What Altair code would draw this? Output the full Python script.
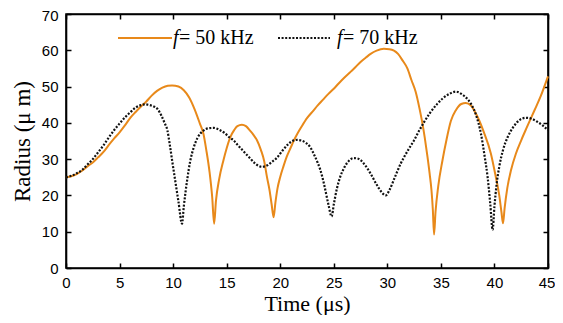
import altair as alt
import pandas as pd

# ---- data ----
series = ["f= 50 kHz", "f= 70 kHz"]
legend_rest = ["= 50 kHz", "= 70 kHz"]

t50 = [0, 0.5, 1.0, 1.5, 2.0, 2.5, 3.0, 3.5, 4.0, 4.5, 5.0, 5.5, 6.0, 6.5, 7.0, 7.5, 8.0, 8.5,
       9.0, 9.5, 9.9, 10.5, 11.0, 11.5, 12.0, 12.5, 12.83, 13.1, 13.4, 13.65, 13.83,
       14.0, 14.3, 14.7, 15.0, 15.33, 15.7, 16.0, 16.42, 16.8, 17.2, 17.5, 17.83, 18.2, 18.5,
       18.76, 19.0, 19.2, 19.38, 19.55, 19.75, 20.0, 20.3, 20.6, 21.0, 21.25, 21.6, 22.0, 22.5,
       23.1, 23.5, 24.0, 24.5, 25.0, 25.5, 26.0, 26.5, 26.87, 27.5, 28.0, 28.44, 29.0, 29.68,
       30.2, 30.62, 31.0, 31.4, 31.87, 32.25, 32.65, 33.0, 33.28, 33.5, 33.75, 33.95, 34.12,
       34.25, 34.36, 34.5, 34.75, 35.15, 35.5, 35.93, 36.4, 36.9, 37.33, 37.8, 38.43, 39.0,
       39.67, 40.1, 40.45, 40.65, 40.8, 40.95, 41.2, 41.55, 42.0, 42.5, 43.0, 43.73, 44.3, 45.0]
r50 = [25.0, 25.3, 25.9, 26.8, 28.0, 29.1, 30.5, 32.0, 33.9, 35.7, 37.4, 39.3, 41.4, 43.0, 44.5,
       45.9, 47.5, 48.8, 49.7, 50.2, 50.3, 50.0, 49.0, 47.0, 43.8, 39.8, 37.0, 32.5, 26.5, 19.5,
       12.2, 18.5, 24.5, 29.7, 33.0, 36.0, 38.0, 39.1, 39.5, 39.1, 37.8, 36.7, 35.2, 32.5, 29.5,
       25.1, 21.5, 17.5, 14.0, 18.0, 22.0, 25.1, 28.0, 30.6, 33.3, 35.0, 37.0, 39.0, 41.3,
       43.4, 44.8, 46.4, 48.0, 49.4, 51.0, 52.5, 53.9, 54.9, 56.8, 58.0, 59.0, 59.9, 60.4,
       60.3, 59.9, 59.0, 57.3, 55.0, 51.8, 48.5, 44.0, 39.8, 35.8, 30.6, 26.0, 21.5,
       16.0, 9.2, 15.5, 22.5, 29.7, 35.0, 40.5, 43.5, 45.2, 45.5, 44.8, 41.6, 37.5,
       31.5, 25.5, 20.0, 15.5, 12.3, 16.5, 22.0, 27.0, 31.5, 35.2, 38.6, 43.4, 47.2, 52.8]

t70 = [0, 0.5, 1.0, 1.5, 2.0, 2.5, 2.9, 3.5, 4.0, 4.47, 5.0, 5.5, 6.03, 6.5, 7.0, 7.35, 7.8,
       8.2, 8.52, 8.9, 9.2, 9.46, 9.7, 9.93, 10.2, 10.5, 10.83, 11.0, 11.3, 11.6, 11.9, 12.3,
       12.8, 13.3, 13.8, 14.3, 14.8, 15.3, 15.64, 16.0, 16.5, 17.2, 17.7, 18.3, 18.8, 19.2,
       19.7, 20.2, 20.7, 21.2, 21.57, 22.0, 22.4, 22.8, 23.2, 23.5, 23.75, 24.1, 24.5, 24.8,
       25.0, 25.3, 25.6, 26.0, 26.4, 26.87, 27.3, 27.8, 28.44, 29.0, 29.5, 29.85, 30.2, 30.7,
       31.25, 31.55, 32.0, 32.5, 33.0, 33.43, 34.0, 34.68, 35.2, 35.8, 36.4, 37.0, 37.5, 37.8,
       38.3, 38.74, 39.1, 39.36, 39.6, 39.83, 40.0, 40.2, 40.45, 40.8, 41.24, 41.8, 42.4,
       42.95, 43.5, 44.0, 44.5, 45.0]
r70 = [25.0, 25.4, 26.1, 27.0, 28.5, 30.0, 31.5, 33.8, 36.0, 37.9, 39.8, 41.5, 43.0, 44.2, 44.9,
       45.1, 44.9, 44.5, 43.9, 42.0, 40.0, 38.0, 33.8, 29.2, 24.0, 18.3, 12.2, 17.0, 24.0, 29.5,
       33.0, 36.0, 37.8, 38.5, 38.6, 38.1, 37.2, 35.9, 35.2, 34.0, 32.4, 30.2, 28.7, 27.9, 28.3,
       29.2, 30.4, 32.3, 34.0, 35.1, 35.3, 35.1, 34.5, 33.3, 31.0, 29.0, 27.0, 23.0, 17.5, 14.2,
       17.5, 22.0, 25.1, 27.8, 29.5, 30.3, 30.1, 28.8, 26.0, 23.0, 20.8, 20.0, 21.5, 25.0,
       28.8, 30.5, 32.8, 35.2, 38.0, 40.2, 42.8, 45.3, 46.8, 48.0, 48.6, 47.8, 46.5, 45.3,
       42.0, 37.0, 30.5, 25.1, 18.0, 10.5, 17.0, 23.0, 27.9, 32.5, 36.1, 39.0, 40.9,
       41.4, 41.1, 40.3, 39.3, 38.0]

x_ticks = [0, 5, 10, 15, 20, 25, 30, 35, 40, 45]
y_ticks = [0, 10, 20, 30, 40, 50, 60, 70]

ORANGE = "#E8891A"
BLACK = "#111111"
W, H = 482, 254

df50 = pd.DataFrame({"t": t50, "r": r50, "series": series[0]})
df70 = pd.DataFrame({"t": t70, "r": r70, "series": series[1]})
leg = pd.DataFrame({"series": series, "rest": legend_rest})

xs = alt.Scale(domain=[0, 45], nice=False, zero=False)
ys = alt.Scale(domain=[0, 70], nice=False)

SANS = "Liberation Sans"
SERIF = "Liberation Serif"

main_x = alt.Axis(orient="bottom", values=x_ticks, title="Time (μs)", labelFont=SANS,
                  labelFontSize=15, labelColor="black", labelPadding=7, ticks=False,
                  tickSize=0, domain=False, grid=False, labelFlush=False,
                  labelOffset={"condition": {"test": "datum.value == 45", "value": -1.5},
                               "value": 0},
                  titleFont=SERIF, titleFontSize=22,
                  titleFontWeight="normal", titleColor="black", titlePadding=3)
main_y = alt.Axis(orient="left", values=y_ticks, title="Radius (μ m)", labelFont=SANS,
                  labelFontSize=15, labelColor="black", labelPadding=8, ticks=False,
                  tickSize=0, domain=False, grid=False, labelFlush=False,
                  labelOffset={"condition": {"test": "datum.value == 70", "value": 1},
                               "value": 0},
                  titleFont=SERIF, titleFontSize=23,
                  titleFontWeight="normal", titleColor="black", titlePadding=7)


def tick_axis(orient, values, offset):
    return alt.Axis(orient=orient, values=values, labels=False, title=None, domain=True,
                    domainColor="black", domainWidth=1.6,
                    grid=False, ticks=True, tickSize=5, tickWidth=1.5, tickColor="black",
                    offset=offset)


orange = alt.Chart(df50).mark_line(color=ORANGE, strokeWidth=2, interpolate="monotone").encode(
    x=alt.X("t:Q", scale=xs, axis=main_x),
    y=alt.Y("r:Q", scale=ys, axis=main_y),
)

black = alt.Chart(df70).mark_line(color=BLACK, strokeWidth=2.2, strokeDash=[2, 1.6],
                                  interpolate="monotone").encode(
    x=alt.X("t:Q", scale=xs, axis=tick_axis("top", x_ticks, -H)),
    y=alt.Y("r:Q", scale=ys, axis=tick_axis("right", y_ticks, -W)),
)

ghost = alt.Chart(df70).mark_line(opacity=0).encode(
    x=alt.X("t:Q", scale=xs, axis=tick_axis("bottom", x_ticks, -H)),
    y=alt.Y("r:Q", scale=ys, axis=tick_axis("left", y_ticks, -W)),
)

# legend (drawn inside the plot area)
leg_base = alt.Chart(leg)
key50 = leg_base.transform_filter(alt.datum.series == series[0]).mark_rule(
    color=ORANGE, strokeWidth=2).encode(x=alt.value(52), x2=alt.value(106), y=alt.value(24))
key70 = leg_base.transform_filter(alt.datum.series == series[1]).mark_rule(
    color=BLACK, strokeWidth=2.2, strokeDash=[2, 1.6]).encode(
    x=alt.value(212), x2=alt.value(264), y=alt.value(24))

f50 = leg_base.transform_filter(alt.datum.series == series[0]).mark_text(
    font=SERIF, fontSize=20, fontStyle="italic", align="left", baseline="middle",
    color="black").encode(x=alt.value(107), y=alt.value(24), text=alt.value("f"))
rest50 = leg_base.transform_filter(alt.datum.series == series[0]).mark_text(
    font=SERIF, fontSize=20, align="left", baseline="middle", color="black").encode(
    x=alt.value(113), y=alt.value(24), text="rest:N")
f70 = leg_base.transform_filter(alt.datum.series == series[1]).mark_text(
    font=SERIF, fontSize=20, fontStyle="italic", align="left", baseline="middle",
    color="black").encode(x=alt.value(271), y=alt.value(24), text=alt.value("f"))
rest70 = leg_base.transform_filter(alt.datum.series == series[1]).mark_text(
    font=SERIF, fontSize=20, align="left", baseline="middle", color="black").encode(
    x=alt.value(277), y=alt.value(24), text="rest:N")

chart = alt.layer(orange, black, ghost, key50, key70, f50, rest50, f70, rest70).resolve_axis(
    x="independent", y="independent"
).properties(
    width=W, height=H,
    autosize=alt.AutoSizeParams(type="none"),
    padding={"left": 58, "top": 6, "right": 7, "bottom": 47},
    background="white",
).configure_view(stroke="black", strokeWidth=1.6)

chart.save("out.html", embed_options={"renderer": "svg", "actions": False})
